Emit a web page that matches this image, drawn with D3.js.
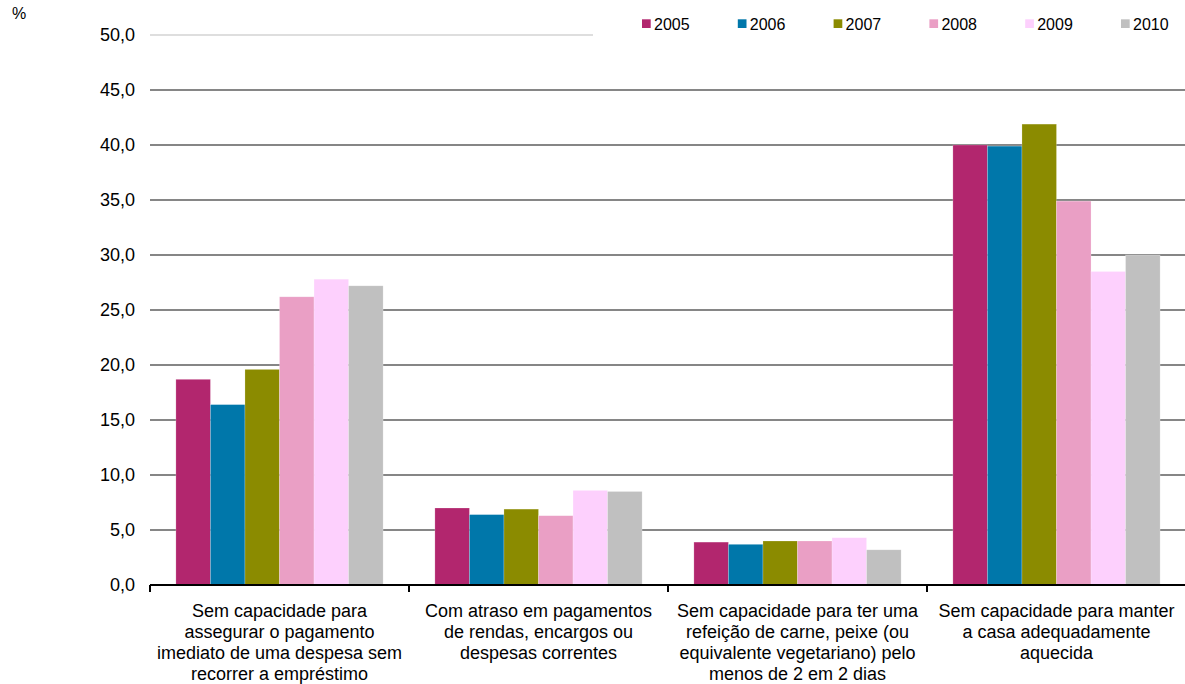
<!DOCTYPE html>
<html><head><meta charset="utf-8">
<script src="https://cdn.jsdelivr.net/npm/d3@7"></script>
<style>body{margin:0;background:#fff}svg{display:block;font-family:"Liberation Sans",Arial,sans-serif}</style>
</head><body><svg id="c" width="1185" height="684"></svg>
<script>
const categories = [
  ["Sem capacidade para","assegurar o pagamento","imediato de uma despesa sem","recorrer a empréstimo"],
  ["Com atraso em pagamentos","de rendas, encargos ou","despesas correntes"],
  ["Sem capacidade para ter uma","refeição de carne, peixe (ou","equivalente vegetariano) pelo","menos de 2 em 2 dias"],
  ["Sem capacidade para manter","a casa adequadamente","aquecida"]
];
const years = ["2005","2006","2007","2008","2009","2010"];
const colors = ["#B2266E","#0077AA","#8B8B00","#EA9FC5","#FDD0FD","#C0C0C0"];
const values = [
  [18.7, 16.4, 19.6, 26.2, 27.8, 27.2],
  [7.0, 6.4, 6.9, 6.3, 8.6, 8.5],
  [3.9, 3.7, 4.0, 4.0, 4.3, 3.2],
  [40.0, 39.9, 41.9, 34.9, 28.5, 30.0]
];
const yTicks = [0,5,10,15,20,25,30,35,40,45,50];

(function(){
const svg = d3.select("#c");
const mLeft = 150, mRight = 1186, mTop = 35, mBottom = 585;
const x = d3.scaleBand().domain(d3.range(categories.length)).range([mLeft, mRight]).paddingInner(0).paddingOuter(0);
const xi = d3.scaleBand().domain(years).range([0, x.bandwidth()]).paddingOuter(0.75).paddingInner(0);
const y = d3.scaleLinear().domain([0,50]).range([mBottom, mTop]);
const fmt = v => d3.format(".1f")(v).replace(".", ",");

// gridlines
svg.append("g").selectAll("line").data(yTicks.filter(t => t > 0)).join("line")
  .attr("x1", mLeft).attr("x2", t => t === 50 ? 593 : mRight)
  .attr("y1", t => y(t)).attr("y2", t => y(t))
  .attr("stroke", t => t === 50 ? "#dedede" : "#868686").attr("stroke-width", 2);

// y labels
svg.append("g").selectAll("text").data(yTicks).join("text")
  .attr("x", 135).attr("y", t => y(t)).attr("dy", "0.36em")
  .attr("text-anchor", "end").attr("font-size", 18).attr("fill", "#000")
  .text(fmt);
svg.append("text").attr("x", 12).attr("y", 19).attr("font-size", 16).text("%");

// bars
const g = svg.append("g").selectAll("g").data(values).join("g")
  .attr("transform", (d,i) => `translate(${x(i)},0)`);
g.selectAll("rect").data(d => d.map((v,j) => ({v, j}))).join("rect")
  .attr("x", d => xi(years[d.j])).attr("width", xi.bandwidth())
  .attr("y", d => y(d.v)).attr("height", d => y(0) - y(d.v))
  .attr("fill", d => colors[d.j]).attr("stroke", "#fff").attr("stroke-opacity", 0.35).attr("stroke-width", 0.6);

// x axis
const axis = d3.axisBottom(x).tickSize(0).tickFormat("");
svg.append("g").attr("transform", `translate(0,${mBottom})`).call(axis)
  .call(s => s.select(".domain").attr("stroke", "#000").attr("stroke-width", 2).attr("d", `M${mLeft},0H${mRight}`));
svg.append("g").selectAll("line").data(d3.range(categories.length + 1)).join("line")
  .attr("x1", i => mLeft + i * x.bandwidth()).attr("x2", i => mLeft + i * x.bandwidth())
  .attr("y1", mBottom).attr("y2", mBottom + 7).attr("stroke", "#000").attr("stroke-width", 2);

// x labels
const lab = svg.append("g").selectAll("text").data(categories).join("text")
  .attr("x", (d,i) => x(i) + x.bandwidth()/2).attr("text-anchor", "middle")
  .attr("font-size", 18).attr("fill", "#000");
lab.selectAll("tspan").data(d => d).join("tspan")
  .attr("x", function(){ return this.parentNode.getAttribute("x"); })
  .attr("y", (d,k) => 617 + k * 21).text(d => d);

// legend
const lg = svg.append("g").selectAll("g").data(years).join("g")
  .attr("transform", (d,i) => `translate(${642 + i * 95.8},0)`);
lg.append("rect").attr("x", 0).attr("y", 19.3).attr("width", 8.7).attr("height", 8.7).attr("fill", (d,i) => colors[i]);
lg.append("text").attr("x", 12).attr("y", 24).attr("dy", "0.36em").attr("font-size", 16).text(d => d);
})();
</script></body></html>
